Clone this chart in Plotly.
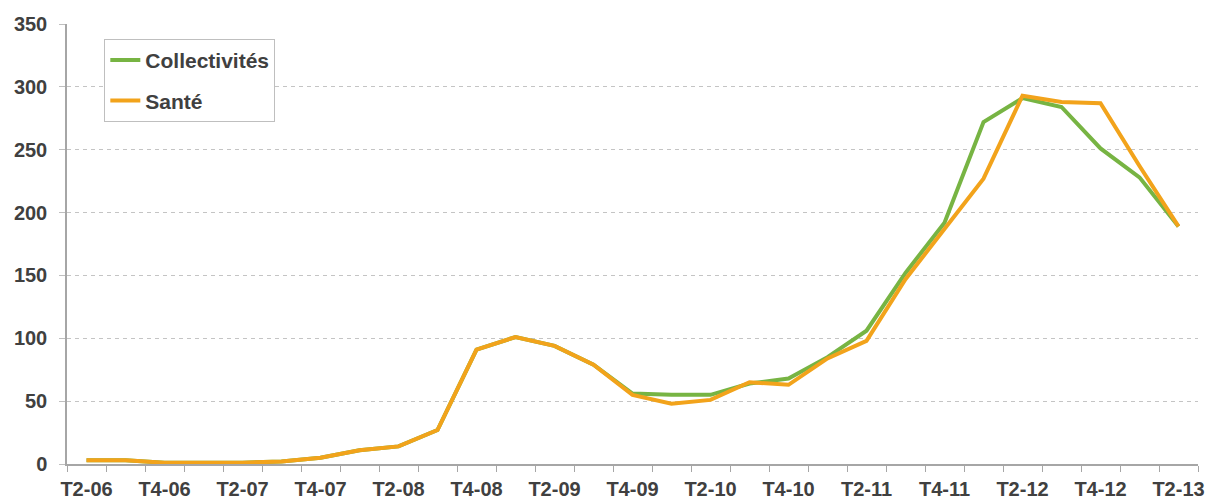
## quarterly series, Collectivités vs Santé
import plotly.graph_objects as go

## categories (quarters T2-06 .. T2-13)
quarters = ["T2-06", "T3-06", "T4-06", "T1-07", "T2-07", "T3-07", "T4-07",
            "T1-08", "T2-08", "T3-08", "T4-08", "T1-09", "T2-09", "T3-09",
            "T4-09", "T1-10", "T2-10", "T3-10", "T4-10", "T1-11", "T2-11",
            "T3-11", "T4-11", "T1-12", "T2-12", "T3-12", "T4-12", "T1-13",
            "T2-13"]

## values
collectivites = [3, 3, 1, 1, 1, 2, 5, 11, 14, 27, 91, 101, 94, 79,
                 56, 55, 55, 64, 68, 85, 106, 152, 192, 272, 291, 284,
                 251, 228, 189]
sante = [3, 3, 1, 1, 1, 2, 5, 11, 14, 27, 91, 101, 94, 79,
         55, 48, 51, 65, 63, 84, 98, 147, 187, 227, 293, 288,
         287, 237, 189]

## only every other quarter gets a label
tick_text = [q if i % 2 == 0 else "" for i, q in enumerate(quarters)]

green = "#77B443"
orange = "#F2A31B"
text_col = "#404040"
font_family = "Liberation Sans, Arial, sans-serif"

fig = go.Figure()
fig.add_trace(go.Scatter(x=quarters, y=collectivites, mode="lines",
                         name="Collectivités", legendgroup="a",
                         line=dict(color=green, width=4)))
fig.add_trace(go.Scatter(x=quarters, y=sante, mode="lines",
                         name="Santé", legendgroup="b",
                         line=dict(color=orange, width=4)))

fig.update_xaxes(type="category", tickmode="array", tickvals=quarters,
                 ticktext=tick_text, tickson="boundaries", tickangle=0,
                 ticks="outside", ticklen=6, tickcolor="#A6A6A6",
                 showline=True, linecolor="#A6A6A6", linewidth=1.5,
                 showgrid=False, range=[-0.5, 28.5], automargin=False,
                 ticklabelstandoff=6,
                 tickfont=dict(family=font_family, size=20, color=text_col,
                               weight="bold"))
fig.update_yaxes(range=[0, 350], dtick=50, ticks="outside", ticklen=6,
                 tickcolor="#BFBFBF", showline=True, linecolor="#A6A6A6",
                 linewidth=1.5, showgrid=True, gridcolor="#C4C4C4",
                 griddash="4px,4px", gridwidth=1, zeroline=False,
                 ticklabelstandoff=8, automargin=False,
                 tickfont=dict(family=font_family, size=20, color=text_col,
                               weight="bold"))

fig.update_layout(width=1206, height=502,
                  margin=dict(l=67, r=8, t=24, b=38),
                  paper_bgcolor="white", plot_bgcolor="white",
                  showlegend=True,
                  legend=dict(x=0.033, y=0.966, xanchor="left", yanchor="top",
                              bgcolor="white", bordercolor="#BFBFBF",
                              borderwidth=1, tracegroupgap=10,
                              font=dict(family=font_family, size=21,
                                        color=text_col, weight="bold")))

## page body has a default 8px margin, drop it so the chart sits at 0,0
fig.write_html("out.html", config={"displayModeBar": False},
               post_script="document.body.style.margin='0';"
                           "document.body.style.overflow='hidden';")
